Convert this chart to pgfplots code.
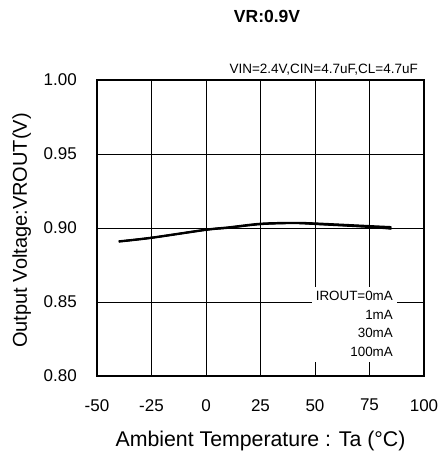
\documentclass[border=0pt]{standalone}
\usepackage{fontspec}
\setmainfont{Liberation Sans}
\usepackage{pgfplots}
\pgfplotsset{compat=1.18}
\begin{document}
\begin{tikzpicture}
\begin{axis}[
  scale only axis,
  width=327pt, height=296pt,
  xmin=-50, xmax=100, ymin=0.80, ymax=1.00,
  xtick={-50,-25,0,25,50,75,100},
  ytick={0.80,0.85,0.90,0.95,1.00},
  grid=major,
  major grid style={black, line width=0.7pt},
  axis line style={black, line width=1.6pt},
  major tick length=0pt,
  /pgf/number format/assume math mode=true,
  yticklabel style={/pgf/number format/fixed,/pgf/number format/fixed zerofill,/pgf/number format/precision=2, anchor=east, inner sep=0pt, xshift=-20pt},
  xticklabel style={anchor=north, inner sep=0pt, yshift=-23pt},
  ticklabel style={font=\fontsize{17}{19}\selectfont},
  clip=false,
]
\addplot[black, line width=1.5pt, smooth] coordinates {(-40,0.8912) (-25,0.8937) (0,0.8991) (10,0.9006) (25,0.9031) (40,0.9037) (50,0.9033) (75,0.9015) (85,0.9008)};
\addplot[black, line width=1.5pt, smooth] coordinates {(-40,0.8910) (-25,0.8935) (0,0.8989) (10,0.9003) (25,0.9028) (40,0.9035) (50,0.9030) (75,0.9011) (85,0.9002)};
\addplot[black, line width=1.5pt, smooth] coordinates {(-40,0.8908) (-25,0.8933) (0,0.8987) (10,0.9001) (25,0.9026) (40,0.9033) (50,0.9027) (75,0.9008) (85,0.8997)};
\addplot[black, line width=1.5pt, smooth] coordinates {(-40,0.8906) (-25,0.8931) (0,0.8985) (10,0.8999) (25,0.9024) (40,0.9031) (50,0.9025) (75,0.9005) (85,0.8993)};
% white legend area
\fill[white] (axis cs:48.6,0.8095) rectangle (axis cs:87.6,0.860);
\node[anchor=base east, inner sep=0pt, font=\fontsize{13.4}{15}\selectfont] at (axis cs:85.8,0.8507) {IROUT=0mA};
\node[anchor=base east, inner sep=0pt, font=\fontsize{13.4}{15}\selectfont] at (axis cs:85.8,0.8382) {1mA};
\node[anchor=base east, inner sep=0pt, font=\fontsize{13.4}{15}\selectfont] at (axis cs:85.8,0.8260) {30mA};
\node[anchor=base east, inner sep=0pt, font=\fontsize{13.4}{15}\selectfont] at (axis cs:85.8,0.8135) {100mA};
% texts
\node[anchor=base east, inner sep=0pt, font=\fontsize{13.5}{15}\selectfont] at ([xshift=-6pt,yshift=6pt]rel axis cs:1,1) {VIN=2.4V,CIN=4.7uF,CL=4.7uF};
\node[anchor=base, inner sep=0pt, font=\bfseries\fontsize{17.5}{19}\selectfont] at ([yshift=57pt]rel axis cs:0.52,1) {VR:0.9V};
\node[anchor=base, inner sep=0pt, font=\fontsize{21.3}{23}\selectfont] at ([yshift=-70pt]rel axis cs:0.5,0) {Ambient Temperature : Ta (°C)};
\node[anchor=base, rotate=90, inner sep=0pt, font=\fontsize{20}{22}\selectfont] at ([xshift=-70pt]rel axis cs:0,0.4916) {Output Voltage:VROUT(V)};
% picture extent
\path ([xshift=-97pt,yshift=-76pt]rel axis cs:0,0) rectangle ([xshift=14pt,yshift=80pt]rel axis cs:1,1);
\end{axis}
\end{tikzpicture}
\end{document}
